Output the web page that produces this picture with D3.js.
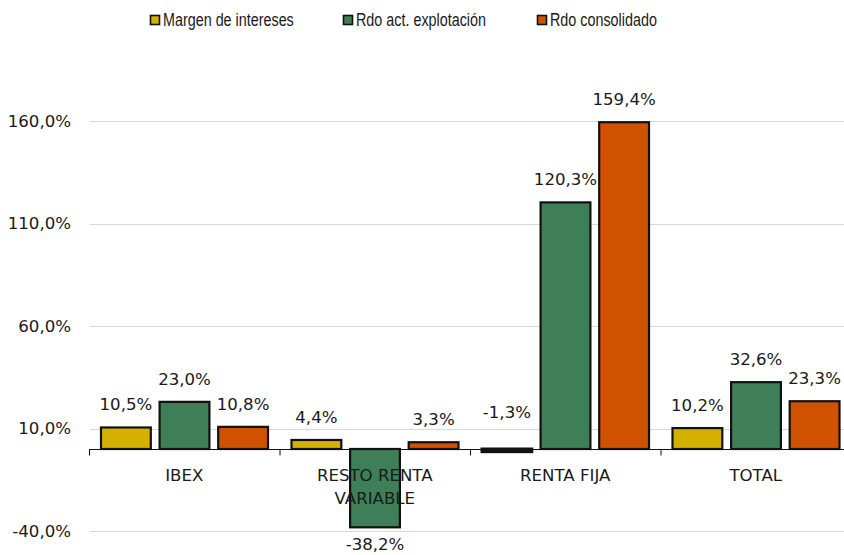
<!DOCTYPE html>
<html><head><meta charset="utf-8">
<script src="https://cdn.jsdelivr.net/npm/d3@7"></script>
<style>
html,body{margin:0;padding:0;background:#fff;}
svg text{font-family:"DejaVu Sans",sans-serif;fill:#1a1a1a;}
svg text.legend{font-family:"Liberation Sans",Arial,sans-serif;}
</style></head>
<body>
<svg id="chart" width="844" height="555"></svg>
<script>
const categories = ["IBEX", "RESTO RENTA VARIABLE", "RENTA FIJA", "TOTAL"];
const categoryLines = [["IBEX"], ["RESTO RENTA", "VARIABLE"], ["RENTA FIJA"], ["TOTAL"]];
const series = ["Margen de intereses", "Rdo act. explotación", "Rdo consolidado"];
const margenIntereses = [10.5, 4.4, -1.3, 10.2];
const rdoActExplotacion = [23.0, -38.2, 120.3, 32.6];
const rdoConsolidado = [10.8, 3.3, 159.4, 23.3];
const yTicks = [-40, 10, 60, 110, 160];
const colors = ["#D4B000", "#3F7F58", "#D05200"];

const values = [margenIntereses, rdoActExplotacion, rdoConsolidado];
const svg = d3.select("#chart");
const fmt = v => v.toFixed(1).replace(".", ",") + "%";
const FS = 16.6;

const x0 = d3.scaleBand().domain(categories).range([89, 851]).paddingInner(0).paddingOuter(0);
const x1 = d3.scaleBand().domain(series).range([12, 179]).paddingInner(0.15);
const y = d3.scaleLinear().domain([-40, 160]).range([531, 121]);

// gridlines
svg.append("g").selectAll("line").data(yTicks).join("line")
  .attr("x1", 90).attr("x2", 844)
  .attr("y1", d => Math.round(y(d)) + 0.5).attr("y2", d => Math.round(y(d)) + 0.5)
  .attr("stroke", "#d9d9d9").attr("stroke-width", 1);

// y labels
svg.append("g").selectAll("text").data(yTicks).join("text")
  .attr("x", 71).attr("y", d => y(d)).attr("dy", "0.36em")
  .attr("text-anchor", "end").attr("font-size", FS)
  .text(d => d.toFixed(1).replace(".", ",") + "%");

// bars
const data = [];
categories.forEach((c, i) => series.forEach((s, j) => data.push({c, s, j, v: values[j][i]})));
svg.append("g").selectAll("rect").data(data).join("rect")
  .attr("x", d => x0(d.c) + x1(d.s))
  .attr("width", x1.bandwidth())
  .attr("y", d => y(Math.max(0, d.v)))
  .attr("height", d => Math.abs(y(d.v) - y(0)))
  .attr("fill", d => colors[d.j])
  .attr("stroke", "#111").attr("stroke-width", d => Math.abs(d.v) < 2 ? 3 : 2.2);

// x axis
const y0 = Math.round(y(0)) + 0.5;
svg.append("line").attr("x1", 89).attr("x2", 844).attr("y1", y0).attr("y2", y0)
  .attr("stroke", "#111").attr("stroke-width", 1.2);
svg.append("g").selectAll("line").data(categories).join("line")
  .attr("x1", d => x0(d) + 0.5).attr("x2", d => x0(d) + 0.5)
  .attr("y1", y0).attr("y2", y0 + 6).attr("stroke", "#111");

// value labels
svg.append("g").selectAll("text").data(data).join("text")
  .attr("x", d => x0(d.c) + x1(d.s) + x1.bandwidth() / 2)
  .attr("y", d => {
    if (d.v >= 0) return y(d.v) - 23;
    if (d.v > -5) return y(0) - 37;
    return y(d.v) + 17;
  })
  .attr("dy", "0.36em").attr("text-anchor", "middle").attr("font-size", FS)
  .text(d => fmt(d.v));

// category labels
const cl = svg.append("g").selectAll("text").data(categories).join("text")
  .attr("x", d => x0(d) + x0.bandwidth() / 2)
  .attr("y", 475).attr("text-anchor", "middle").attr("font-size", FS);
cl.each(function(d, i) {
  const t = d3.select(this);
  categoryLines[i].forEach((ln, k) => {
    t.append("tspan").attr("x", x0(d) + x0.bandwidth() / 2)
      .attr("dy", k === 0 ? "0.36em" : "1.38em").text(ln);
  });
});

// legend
const legendX = [150, 343, 537];
const lg = svg.append("g").selectAll("g").data(series).join("g")
  .attr("transform", (d, i) => `translate(${legendX[i]},15)`);
lg.append("rect").attr("x", 0.5).attr("y", 0.5).attr("width", 9).attr("height", 9)
  .attr("fill", (d, i) => colors[i]).attr("stroke", "#111").attr("stroke-width", 1.6);
lg.append("text").attr("class", "legend")
  .attr("transform", "translate(13,5) scale(0.82,1)")
  .attr("dy", "0.36em")
  .attr("font-size", 17.5).text(d => d);
</script>
</body></html>
